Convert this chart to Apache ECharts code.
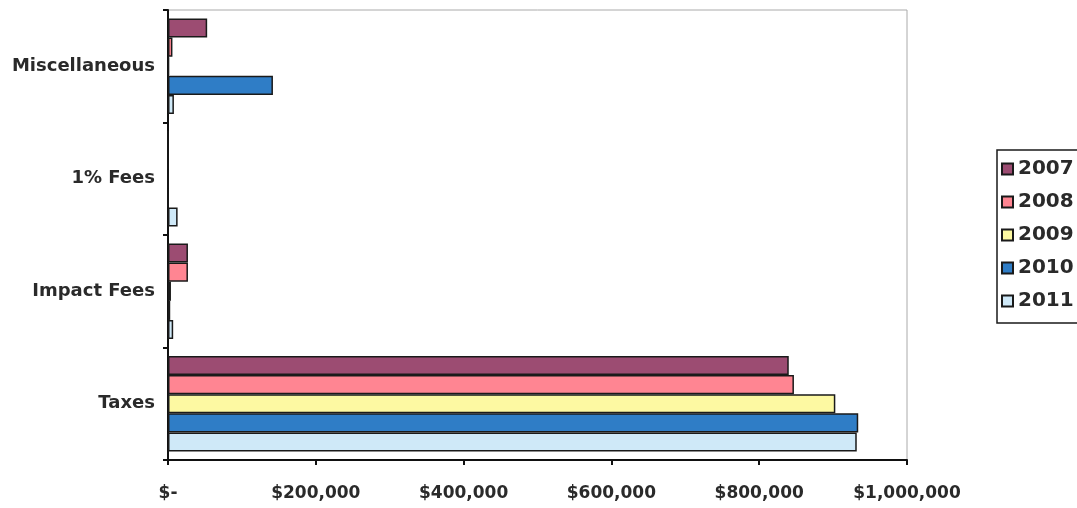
<!DOCTYPE html>
<html>
<head>
<meta charset="utf-8">
<script src="https://cdn.jsdelivr.net/npm/echarts@6/dist/echarts.min.js"></script>
<style>
html,body{margin:0;padding:0;background:#fff;}
#chart{width:1077px;height:508px;}
</style>
</head>
<body>
<div id="chart"></div>
<script>
var categories = ['Taxes', 'Impact Fees', '1% Fees', 'Miscellaneous'];
var years = ['2007', '2008', '2009', '2010', '2011'];
var v2007 = [840000, 27000, 0, 53000];
var v2008 = [847000, 27000, 0, 6000];
var v2009 = [903000, 4000, 0, 1500];
var v2010 = [934000, 3000, 0, 142000];
var v2011 = [932000, 7000, 13000, 8000];
var xTickValues = [0, 200000, 400000, 600000, 800000, 1000000];
var xTickLabels = ['$-', '$200,000', '$400,000', '$600,000', '$800,000', '$1,000,000'];
var colors = ['#9c4c72', '#ff8592', '#fdf9a2', '#2f7dc6', '#cfe9f8'];

var values = [v2007, v2008, v2009, v2010, v2011];
var series = years.map(function (y, i) {
  return {
    name: y,
    type: 'bar',
    data: values[i],
    barGap: '0%',
    barCategoryGap: '15%',
    itemStyle: { color: colors[i], borderColor: '#1a1a1a', borderWidth: 1.5 }
  };
});

var chart = echarts.init(document.getElementById('chart'), null, { renderer: 'canvas' });
chart.setOption({
  animation: false,
  backgroundColor: '#ffffff',
  textStyle: { fontFamily: 'DejaVu Sans' },
  grid: { left: 168, right: 170, top: 10, bottom: 48, show: true, borderColor: '#aaaaaa', borderWidth: 1, containLabel: false },
  legend: {
    data: years,
    orient: 'vertical',
    left: 997,
    top: 150,
    itemWidth: 11,
    itemHeight: 11,
    itemGap: 13,
    itemTextGap: 6,
    padding: [9, 30, 12, 4],
    borderColor: '#1a1a1a',
    borderWidth: 1.5,
    icon: 'rect',
    textStyle: { fontFamily: 'DejaVu Sans', fontWeight: 'bold', fontSize: 20, color: '#2a2a2a' }
  },
  xAxis: {
    type: 'value',
    min: 0,
    max: 1000000,
    interval: 200000,
    splitLine: { show: false },
    axisLine: { show: true, lineStyle: { color: '#111', width: 2 } },
    axisTick: { show: true, length: 5, lineStyle: { color: '#111', width: 2 } },
    axisLabel: {
      margin: 25,
      fontFamily: 'DejaVu Sans',
      fontWeight: 'bold',
      fontSize: 17,
      color: '#2a2a2a',
      formatter: function (v) {
        var idx = xTickValues.indexOf(v);
        return idx >= 0 ? xTickLabels[idx] : '';
      }
    }
  },
  yAxis: {
    type: 'category',
    data: categories,
    axisLine: { show: true, lineStyle: { color: '#111', width: 2 } },
    axisTick: { show: true, length: 5, lineStyle: { color: '#111', width: 2 } },
    axisLabel: {
      margin: 13,
      fontFamily: 'DejaVu Sans',
      fontWeight: 'bold',
      fontSize: 18,
      color: '#2a2a2a'
    }
  },
  series: series
});
</script>
</body>
</html>
